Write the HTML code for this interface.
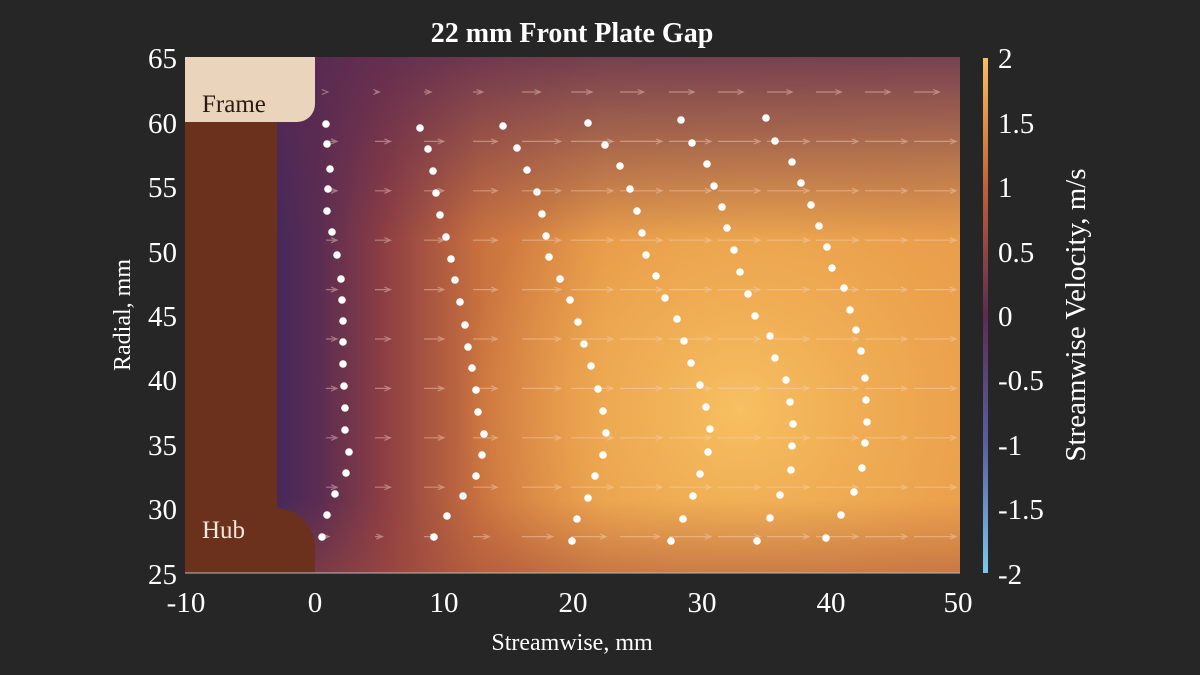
<!DOCTYPE html>
<html><head><meta charset="utf-8"><style>
body{margin:0;background:#262626;}
svg{display:block;font-family:"Liberation Serif",serif;}
</style></head><body>
<svg id="s" width="1200" height="675" viewBox="0 0 1200 675">
<defs>
<linearGradient id="h" x1="277" x2="960" y1="0" y2="0" gradientUnits="userSpaceOnUse">
<stop offset="0" stop-color="#46295a"/><stop offset="0.06" stop-color="#5a2c52"/>
<stop offset="0.16" stop-color="#8e3f43"/><stop offset="0.3" stop-color="#c9723f"/>
<stop offset="0.48" stop-color="#e49647"/><stop offset="1" stop-color="#e99e4b"/>
</linearGradient>
<linearGradient id="t" x1="0" x2="0" y1="57" y2="240" gradientUnits="userSpaceOnUse">
<stop offset="0" stop-color="#5a2a52" stop-opacity="0.8"/><stop offset="1" stop-color="#5a2a52" stop-opacity="0"/>
</linearGradient>
<linearGradient id="b" x1="0" x2="0" y1="573" y2="500" gradientUnits="userSpaceOnUse">
<stop offset="0" stop-color="#a04a3c" stop-opacity="0.45"/><stop offset="1" stop-color="#a04a3c" stop-opacity="0"/>
</linearGradient>
<radialGradient id="r" cx="740" cy="410" r="280" gradientUnits="userSpaceOnUse">
<stop offset="0" stop-color="#f8c262" stop-opacity="0.95"/><stop offset="0.6" stop-color="#f3b356" stop-opacity="0.5"/><stop offset="1" stop-color="#f0a850" stop-opacity="0"/>
</radialGradient>
<linearGradient id="cb" x1="0" x2="0" y1="573" y2="58" gradientUnits="userSpaceOnUse">
<stop offset="0" stop-color="#7fc6ee"/><stop offset="0.25" stop-color="#5a5fa0"/><stop offset="0.5" stop-color="#5c2c52"/><stop offset="0.75" stop-color="#c0603a"/><stop offset="1" stop-color="#f6c060"/>
</linearGradient>
<clipPath id="pc"><rect x="185" y="57" width="775" height="516"/></clipPath>
</defs>
<g clip-path="url(#pc)">
<rect x="185" y="57" width="775" height="516" fill="url(#h)"/>
<rect x="185" y="57" width="775" height="516" fill="url(#r)"/>
<rect x="185" y="57" width="775" height="516" fill="url(#t)"/>
<rect x="185" y="57" width="775" height="516" fill="url(#b)"/>
<g id="arr" stroke="#f6d2c0" stroke-opacity="0.45" stroke-width="1.2" fill="none"></g>
<path d="M185 57H277V508H275A40 40 0 0 1 315 548V573H185Z" fill="#6b311c"/>
<path d="M185 57H315V104A18 18 0 0 1 297 122H185Z" fill="#ead4bb"/>
<g id="dots" fill="#fff"></g>
</g>
<line x1="185" y1="573" x2="960" y2="573" stroke="#bbb" stroke-width="1"/>
<text x="572" y="42" text-anchor="middle" font-size="28" font-weight="bold" fill="#fff">22 mm Front Plate Gap</text>
<text x="202" y="112" font-size="25" fill="#2a1a10">Frame</text>
<text x="202" y="538" font-size="25" fill="#f4e6da">Hub</text>
<g font-size="29" fill="#fff" text-anchor="end">
<text x="177" y="68">65</text><text x="177" y="133">60</text><text x="177" y="197">55</text><text x="177" y="262">50</text><text x="177" y="326">45</text><text x="177" y="390">40</text><text x="177" y="455">35</text><text x="177" y="519">30</text><text x="177" y="584">25</text>
</g>
<g font-size="29" fill="#fff" text-anchor="middle">
<text x="186" y="612">-10</text><text x="315" y="612">0</text><text x="444" y="612">10</text><text x="573" y="612">20</text><text x="702" y="612">30</text><text x="831" y="612">40</text><text x="958" y="612">50</text>
</g>
<text x="572" y="650" font-size="24" fill="#fff" text-anchor="middle">Streamwise, mm</text>
<text transform="translate(130,315) rotate(-90)" font-size="24" fill="#fff" text-anchor="middle">Radial, mm</text>
<rect x="983" y="58" width="5" height="515" fill="url(#cb)"/>
<g font-size="29" fill="#fff">
<text x="998" y="68">2</text><text x="998" y="133">1.5</text><text x="998" y="197">1</text><text x="998" y="262">0.5</text><text x="998" y="326">0</text><text x="998" y="390">-0.5</text><text x="998" y="455">-1</text><text x="998" y="519">-1.5</text><text x="998" y="584">-2</text>
</g>
<text transform="translate(1085,315) rotate(-90)" font-size="29" fill="#fff" text-anchor="middle">Streamwise Velocity, m/s</text>
</svg>
<script>
var ns="http://www.w3.org/2000/svg";
var cols=[[[326,124],[327,144],[330,169],[328,189],[327,211],[332,232],[337,255],[341,279],[342,300],[343,321],[343,342],[343,364],[344,386],[345,408],[345,430],[349,452],[346,473],[335,494],[327,515],[322,537]],
[[420,128],[428,149],[433,171],[436,193],[440,215],[446,237],[451,259],[455,280],[460,302],[465,325],[468,347],[472,368],[476,390],[478,412],[484,434],[482,455],[476,476],[463,496],[447,516],[434,537]],
[[503,126],[517,148],[527,170],[537,192],[542,214],[546,236],[549,257],[560,279],[570,300],[578,322],[584,344],[591,366],[598,389],[603,411],[606,433],[603,455],[595,476],[588,498],[577,519],[572,541]],
[[588,123],[605,145],[620,166],[630,189],[637,211],[642,233],[646,255],[656,276],[665,298],[677,319],[684,341],[691,363],[700,385],[706,407],[710,429],[708,452],[700,474],[693,496],[683,519],[671,541]],
[[681,120],[692,143],[707,164],[714,186],[722,207],[727,228],[734,250],[740,272],[748,294],[755,316],[770,336],[775,358],[786,380],[790,402],[793,424],[792,446],[791,470],[780,495],[770,518],[757,541]],
[[766,118],[775,141],[792,162],[801,183],[811,205],[819,226],[827,247],[832,268],[844,288],[850,310],[856,330],[861,351],[865,378],[866,400],[867,422],[865,443],[862,468],[854,492],[841,515],[826,538]]];
var d=document.getElementById("dots");
cols.forEach(function(c){c.forEach(function(p){var e=document.createElementNS(ns,"circle");e.setAttribute("cx",p[0]);e.setAttribute("cy",p[1]);e.setAttribute("r",3.8);d.appendChild(e);});});
var a=document.getElementById("arr"),s="";
for(var r=0;r<10;r++){var y=92+r*49.4;for(var c=0;c<13;c++){var x=326+c*49;var L=Math.min(42,3+(x-326)*0.09+ (r>0&&r<9?8:0)+(x>500?10:0));if(r==0)L*=0.6;
s+="M"+x+" "+y+"h"+L.toFixed(1)+"m-6 -2.5l6 2.5l-6 2.5";}}
var p=document.createElementNS(ns,"path");p.setAttribute("d",s);a.appendChild(p);
</script>
</body></html>
